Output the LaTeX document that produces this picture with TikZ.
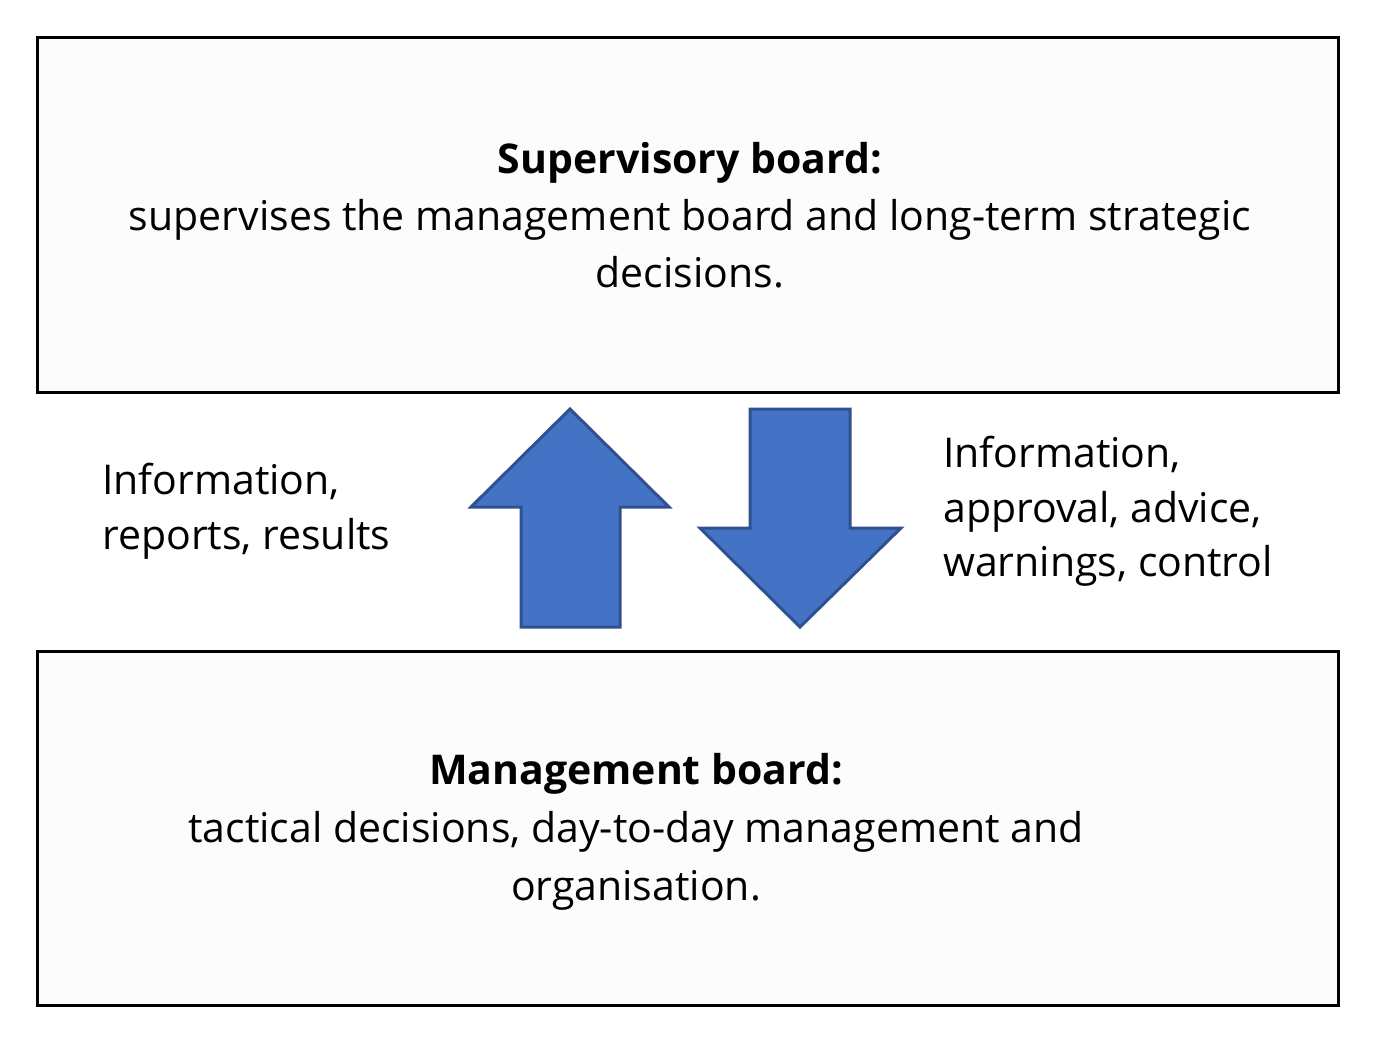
\documentclass[tikz,border=0pt]{standalone}
\usepackage{fontspec}
\setmainfont{Open Sans}
\definecolor{arrowfill}{HTML}{4472C4}
\definecolor{arrowline}{HTML}{2F528F}
\begin{document}
\begin{tikzpicture}[x=1pt,y=-1pt,
  board/.style={draw=black,line width=3pt,fill=white!99!black},
  bigarrow/.style={draw=arrowline,fill=arrowfill,line width=3pt,line join=miter},
  txt/.style={font=\fontsize{41}{57}\selectfont,inner sep=0pt,align=center},
  side/.style={font=\fontsize{41}{54.5}\selectfont,inner sep=0pt,align=left,anchor=north west}]
\useasboundingbox (0,0) rectangle (1375,1044);
\draw[board] (37,37) rectangle (1338,392);
\draw[board] (37,651) rectangle (1338,1005);
\node[txt] (sup) at (690,215) {\textbf{Supervisory board:}\\supervises the management board and long-term strategic\\decisions.};
\node[txt,font=\fontsize{41}{58}\selectfont] (man) at (636,832) {\textbf{Management board:}\\tactical decisions, day-to-day management and\\organisation.};
\draw[bigarrow] (570,409) -- (669,507) -- (620,507) -- (620,627) -- (521,627) -- (521,507) -- (471,507) -- cycle;
\draw[bigarrow] (750,409) -- (850,409) -- (850,528) -- (901,528) -- (800,627) -- (700,528) -- (750,528) -- cycle;
\node[side] (left) at (102,463) {Information,\\reports, results};
\node[side] (right) at (943,436) {Information,\\approval, advice,\\warnings, control};
\end{tikzpicture}
\end{document}
